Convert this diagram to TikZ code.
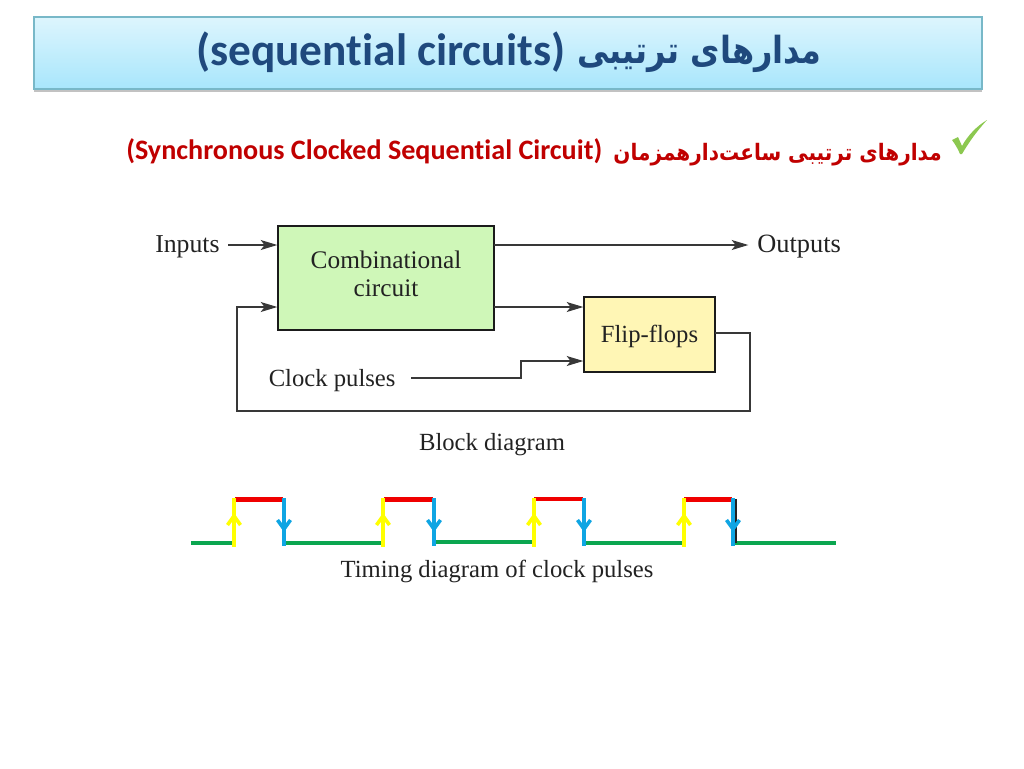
\documentclass[tikz,border=0pt]{standalone}
\usepackage{fontspec}
\usepackage{graphicx}
\usetikzlibrary{arrows.meta,shadows}
\TeXXeTstate=1
\setmainfont{Liberation Serif}
\newfontfamily\latinb{Carlito}[BoldFont=Carlito Bold,Ligatures={NoCommon,NoRequired,NoContextual}]
\newfontfamily\arabicfont[Script=Arabic]{DejaVu Sans}
\definecolor{titleblue}{HTML}{1F497D}
\definecolor{darkred}{HTML}{C00000}
\definecolor{titleedge}{HTML}{78B8C8}
\definecolor{titletop}{HTML}{DDF5FD}
\definecolor{titlebot}{HTML}{A8E6FC}
\definecolor{boxgreen}{HTML}{CFF7B8}
\definecolor{boxyellow}{HTML}{FFF6B5}
\definecolor{pgreen}{HTML}{0BA650}
\definecolor{pred}{HTML}{F00000}
\definecolor{pyellow}{HTML}{FFFF00}
\definecolor{pblue}{HTML}{0FA5E3}
\definecolor{checkgreen}{HTML}{8CC850}
\definecolor{ink}{HTML}{222222}
\tikzset{
  blockbox/.style={draw=ink!80!black,line width=1.7pt,inner sep=0pt,outer sep=0pt,anchor=north west},
  lbl/.style={text=ink,font=\fontsize{18.5}{21}\selectfont,inner sep=0pt},
  wire/.style={draw=ink!90,line width=0.9pt},
  wirea/.style={wire,-{Stealth[length=12.5pt,width=7.5pt,inset=3pt]},shorten >=0.5pt},
  pulse/.style={line width=3pt},
  redpulse/.style={line width=3.4pt},
  barb/.style={line width=2.7pt,miter limit=10}
}
\begin{document}
\begin{tikzpicture}[x=0.75pt,y=-0.75pt]
\useasboundingbox (0,0) rectangle (1024,768);
% title bar
\node[inner sep=0pt,outer sep=0pt,minimum width=711pt,minimum height=54pt,anchor=north west,draw=titleedge,line width=0.9pt,
  top color=titletop,bottom color=titlebot,
  drop shadow={shadow xshift=0pt,shadow yshift=-2pt,opacity=0.4,fill=black!60}] (title) at (34,17) {};
\node[text=titleblue,font=\fontsize{34}{36}\selectfont\latinb\bfseries,inner sep=0pt,anchor=base west] (titlelatin) at (196,65) {(sequential circuits)};
\node[text=titleblue,font=\fontsize{28}{30}\selectfont\arabicfont\bfseries,inner sep=0pt,anchor=base east] (titlefa) at (822,63) {\scalebox{0.855}[1]{\beginR مدارهای ترتیبی\endR}};
% subtitle
\node[text=darkred,font=\fontsize{21.1}{22}\selectfont\latinb\bfseries,inner sep=0pt,anchor=base west] (sublatin) at (126,159) {(Synchronous Clocked Sequential Circuit)};
\node[text=darkred,font=\fontsize{17}{18}\selectfont\arabicfont\bfseries,inner sep=0pt,anchor=base east] (subfa) at (942,160) {\scalebox{0.885}[1]{\beginR مدارهای ترتیبی ساعت‌دارهمزمان\endR}};
% check
\fill[checkgreen] (952,140) -- (958,137) -- (962,146) .. controls (968,135) and (977,126) .. (987,120) .. controls (977,131) and (969,142) .. (962,154) -- (960,154) .. controls (958,149) and (955,144) .. (952,140) -- cycle;
% blocks
\node[blockbox,fill=boxgreen,minimum width=162pt,minimum height=78pt] (comb) at (278,226) {};
\node[blockbox,fill=boxyellow,minimum width=98.25pt,minimum height=56.25pt] (ff) at (584,297) {};
\node[lbl,font=\fontsize{19}{21}\selectfont,align=center,anchor=base] (combt) at (386,296) {Combinational\\circuit};
\node[lbl,anchor=base] (fft) at (649.5,342) {Flip-flops};
\node[lbl,font=\fontsize{19.3}{21}\selectfont,anchor=base west] (inp) at (155,252.5) {Inputs};
\node[lbl,font=\fontsize{19.8}{21}\selectfont,anchor=base west] (outp) at (757,252.5) {Outputs};
\node[lbl,anchor=base west] (clk) at (268.5,386.5) {Clock pulses};
\node[lbl,anchor=base] (blockcap) at (492,450) {Block diagram};
\node[lbl,anchor=base] (timecap) at (497,577) {Timing diagram of clock pulses};
% connectors
\coordinate (inS) at (228,245);
\coordinate (outE) at (749,245);
\coordinate (clkS) at (411,378);
\draw[wirea] (inS) -- (comb.west |- inS);
\draw[wirea] (comb.east |- inS) -- (outE);
\draw[wirea] (comb.east |- 0,307) -- (ff.west |- 0,307);
\draw[wirea] (clkS) -- (521,378) -- (521,361) -- (ff.west |- 0,361);
\draw[wirea] (ff.east |- 0,333) -- (750,333) -- (750,411) -- (237,411) -- (237,307) -- (comb.west |- 0,307);
% pulses
\coordinate (p0) at (191,543);
\coordinate (p9) at (836,543);
\draw[pulse,draw=pgreen] (p0) -- (234,543) (284,543) -- (382,543) (434,542) -- (533,542) (584,543) -- (684,543) (734,543) -- (p9);
\draw[redpulse,draw=pred] (235,499.5) -- (283,499.5) (384,499.5) -- (433,499.5) (534,499) -- (583,499) (684,499.5) -- (732,499.5);
\draw[line width=1.5pt,draw=ink] (735.5,499) -- (735.5,543);
\foreach \x in {234,383,534,684}{
  \draw[pulse,draw=pyellow] (\x,547) -- (\x,498);
  \draw[barb,draw=pyellow] (\x-6.5,525) -- (\x,516) -- (\x+6.5,525);
}
\foreach \x in {284,434,584,733}{
  \draw[pulse,draw=pblue] (\x,498) -- (\x,546);
  \draw[barb,draw=pblue] (\x-6.5,520) -- (\x,529) -- (\x+6.5,520);
}
\end{tikzpicture}
\end{document}
